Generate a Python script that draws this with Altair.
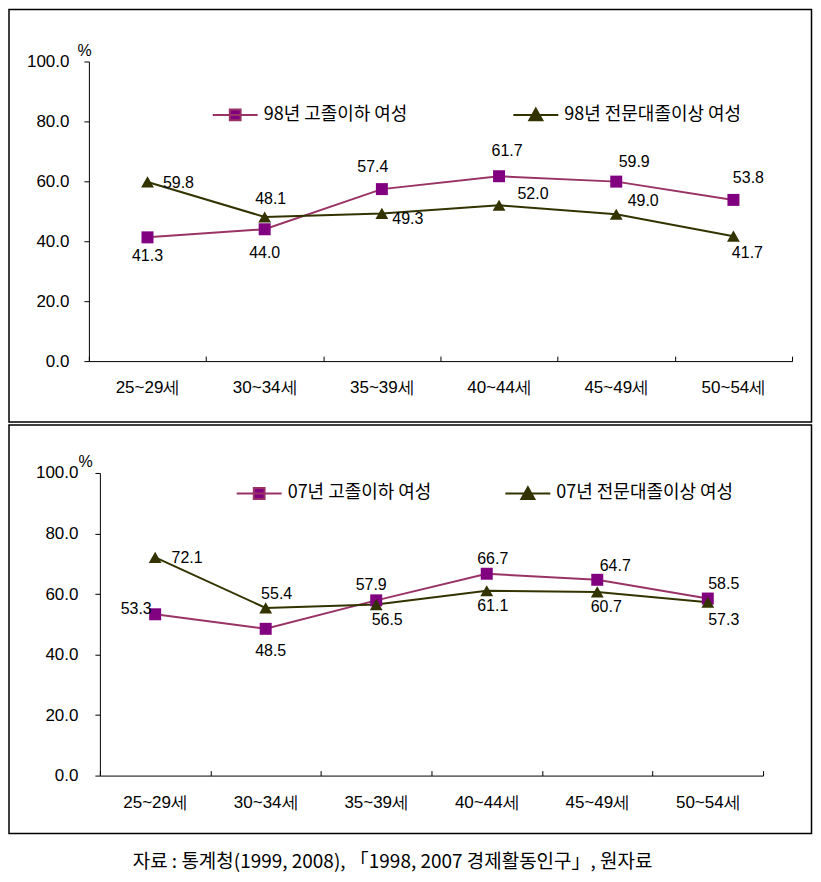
import altair as alt
import pandas as pd

# ---------------- data ----------------
ages = ["25~29세", "30~34세", "35~39세", "40~44세", "45~49세", "50~54세"]
y_ticks = [0, 20, 40, 60, 80, 100]

names_98 = ["98년 고졸이하 여성", "98년 전문대졸이상 여성"]
v98_low = [41.3, 44.0, 57.4, 61.7, 59.9, 53.8]
v98_high = [59.8, 48.1, 49.3, 52.0, 49.0, 41.7]

names_07 = ["07년 고졸이하 여성", "07년 전문대졸이상 여성"]
v07_low = [53.3, 48.5, 57.9, 66.7, 64.7, 58.5]
v07_high = [72.1, 55.4, 56.5, 61.1, 60.7, 57.3]

source_note = "자료 : 통계청(1999, 2008), 「1998, 2007 경제활동인구」, 원자료"

# ---------------- layout / style (label placement in px) ----------------
off98_low = [(0, 19), (0, 24), (-9, -22), (8, -25), (18, -20), (15, -22)]
off98_high = [(31, 1), (6, -18), (26, 6), (34, -11), (27, -13), (14, 17)]
off07_low = [(-19, -5), (5, 22), (-5, -15), (6, -15), (18, -14), (16, -15)]
off07_high = [(32, 1), (11, -14), (11, 15), (6, 15), (9, 15), (16, 18)]

LINE_COLORS = ["#993366", "#333300"]
MARK_COLORS = ["#800080", "#333300"]
SHAPES = ["square", "triangle-up"]
SIZES = [144, 165]
LEGEND_PATHS = [
    "M-1,0H1M-0.24,-0.24H0.24V0.24H-0.24Z",
    "M-1,0H1M0,-0.28L0.29,0.24L-0.29,0.24Z",
]

FONT_NUM = "'Liberation Sans Narrow', 'Liberation Sans', sans-serif"
FONT_LBL = "'Liberation Sans', sans-serif"
FONT_KR = "'Noto Sans CJK KR', sans-serif"


def make_panel(names, series_vals, offsets, w, h, cfg):
    shift = cfg.get("shift", 0)          # plot area starts `shift` px left of the view origin
    x0, x1 = -shift, w - shift
    half_step = (x1 - x0) / len(ages) / 2.0
    rows = []
    for name, vals, offs in zip(names, series_vals, offsets):
        for a, v, o in zip(ages, vals, offs):
            rows.append({"age": a, "value": v, "series": name,
                         "dx": o[0] + half_step, "dy": o[1]})
    df = pd.DataFrame(rows)
    base = alt.Chart(df)

    x = alt.X(
        "age:N", sort=ages, bandPosition=0.5,
        scale=alt.Scale(type="band", paddingInner=0, paddingOuter=0, range=[x0, x1]),
        axis=alt.Axis(
            title=None, tickBand="extent", ticks=False, domainColor="black", domainWidth=1,
            grid=True, gridColor="black", gridWidth=1, gridDash=[0, h - 5, 5, 3000], gridOpacity=1,
            labelFont=FONT_NUM, labelFontSize=17, labelColor="black",
            labelPadding=cfg["xpad"], labelAngle=0,
        ),
    )
    yaxis = alt.Axis(
        values=y_ticks, format=".1f", grid=False, tickSize=5, tickColor="black",
        domainColor="black", labelFont=FONT_NUM, labelFontSize=17, labelColor="black",
        labelPadding=cfg["ypad"], title="%", titleAngle=0, titleAlign="left",
        titleBaseline="middle", titleX=cfg["tx"], titleY=cfg["ty"], titleFont=FONT_LBL,
        titleFontSize=16, titleFontWeight="normal", titleColor="black", offset=shift,
    )
    yscale = alt.Scale(domain=[0, 100], nice=False)
    y = alt.Y("value:Q", scale=yscale, axis=yaxis)

    bx0, bx1, by0, by1 = cfg["border"]
    border = alt.Chart(pd.DataFrame({"k": [0]})).mark_rect(
        fillOpacity=0, stroke="black", strokeWidth=1.5
    ).encode(x=alt.value(bx0), x2=alt.value(bx1), y=alt.value(by0), y2=alt.value(by1))

    layers = [border]
    for name, lc in zip(names, LINE_COLORS):
        layers.append(
            base.transform_filter(alt.datum.series == name)
            .mark_line(color=lc, strokeWidth=2)
            .encode(x=x, y=y)
        )
    for name, mc, shp, sz in zip(names, MARK_COLORS, SHAPES, SIZES):
        layers.append(
            base.transform_filter(alt.datum.series == name)
            .mark_point(shape=shp, filled=True, size=sz, color=mc, opacity=1)
            .encode(x=x, y=y)
        )
    px_per_unit = h / 100.0
    layers.append(
        base.transform_calculate(label_y=f"datum.value - datum.dy / {px_per_unit}")
        .mark_text(font=FONT_LBL, fontSize=16, color="black")
        .encode(
            x=x,
            y=alt.Y("label_y:Q", scale=yscale, axis=yaxis),
            text=alt.Text("value:Q", format=".1f"),
            xOffset=alt.XOffset("dx:Q", scale=None),
        )
    )
    leg = alt.Legend(
        title=None, orient="none", legendX=cfg["lx"], legendY=cfg["ly"], direction="horizontal",
        symbolSize=2025, symbolStrokeWidth=2, labelFont=FONT_KR, labelFontSize=18,
        labelColor="black", labelOffset=5, columnPadding=cfg["colpad"], labelLimit=400,
    )
    layers.append(
        base.transform_filter("false").mark_point(filled=True, opacity=1).encode(
            fill=alt.Fill("series:N", scale=alt.Scale(domain=names, range=MARK_COLORS), legend=leg),
            stroke=alt.Stroke("series:N", scale=alt.Scale(domain=names, range=LINE_COLORS), legend=leg),
            shape=alt.Shape("series:N", scale=alt.Scale(domain=names, range=LEGEND_PATHS), legend=leg),
        )
    )
    if cfg.get("caption"):
        cx, cy = cfg["caption"]
        layers.append(
            alt.Chart(pd.DataFrame({"t": [source_note]})).mark_text(
                font=FONT_KR, fontSize=19, color="black"
            ).encode(text="t:N", x=alt.value(cx), y=alt.value(cy))
        )
    return alt.layer(*layers).properties(width=w, height=h)


top = make_panel(
    names_98, [v98_low, v98_high], [off98_low, off98_high], 704, 300,
    dict(shift=11, xpad=18, ypad=15, tx=-12, ty=-11, border=(-91, 712.5, -52, 361),
         lx=112, ly=30, colpad=102),
)
bottom = make_panel(
    names_07, [v07_low, v07_high], [off07_low, off07_high], 664, 303,
    dict(xpad=19, ypad=17, tx=-22, ty=-11, border=(-91, 712.5, -48, 361),
         lx=136, ly=-3, colpad=70, caption=(293, 390)),
)

chart = (
    alt.vconcat(top, bottom, spacing=1)
    .resolve_scale(fill="independent", stroke="independent", shape="independent")
    .resolve_legend(fill="independent", stroke="independent", shape="independent")
    .properties(padding=0)
    .configure_view(stroke=None)
)

chart.save("out.html", embed_options={"renderer": "svg", "actions": False})
